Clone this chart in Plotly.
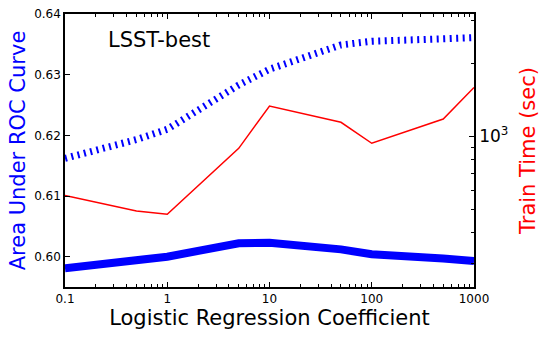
import plotly.graph_objects as go

# Data
coef = [0.1, 0.5, 1, 5, 10, 50, 100, 500, 1000]
auc_dotted = [0.6162, 0.6193, 0.6210, 0.6283, 0.6309, 0.6349, 0.6355, 0.6360, 0.6361]
auc_thick = [0.5981, 0.5993, 0.6000, 0.6022, 0.6023, 0.6012, 0.6004, 0.5997, 0.5993]
train_time = [571, 492, 477, 892, 1333, 1142, 936, 1178, 1589]

x_tickvals = [0.1, 1, 10, 100, 1000]
x_ticktext = ["0.1", "1", "10", "100", "1000"]
x_minor = [m * 10 ** e for e in range(-1, 3) for m in range(2, 10)]
y_tickvals = [0.60, 0.61, 0.62, 0.63, 0.64]
y2_tickvals = [1000]
y2_ticktext = ["10<sup>3</sup>"]
y2_minor = [300, 400, 500, 600, 700, 800, 900, 2000, 3000]

FONT = "DejaVu Sans"

fig = go.Figure()
fig.add_trace(go.Scatter(x=coef, y=auc_dotted, mode="lines",
                         line=dict(color="#0000ff", width=7, dash="2px,4.5px"),
                         yaxis="y", showlegend=False))
fig.add_trace(go.Scatter(x=coef, y=auc_thick, mode="lines",
                         line=dict(color="#0000ff", width=8),
                         yaxis="y", showlegend=False))
fig.add_trace(go.Scatter(x=coef, y=train_time, mode="lines",
                         line=dict(color="#ff0000", width=1.5),
                         yaxis="y2", showlegend=False))

fig.update_layout(
    width=548, height=339,
    margin=dict(l=65, r=74, t=14, b=52, autoexpand=False),
    paper_bgcolor="white", plot_bgcolor="white",
    font=dict(family=FONT, color="black"),
    xaxis=dict(
        type="log", range=[-1, 3], automargin=False,
        tickmode="array", tickvals=x_tickvals, ticktext=x_ticktext,
        ticks="inside", ticklen=5, tickwidth=1, tickcolor="black",
        minor=dict(tickmode="array", tickvals=x_minor, ticks="inside",
                   ticklen=3, tickcolor="black", showgrid=False),
        showline=True, linecolor="black", linewidth=1.5, mirror="ticks",
        showgrid=False, zeroline=False,
        tickfont=dict(size=12, family=FONT),
        title=dict(text="Logistic Regression Coefficient",
                   font=dict(size=21, family=FONT), standoff=4),
    ),
    yaxis=dict(
        range=[0.595, 0.64], automargin=False,
        tickmode="array", tickvals=y_tickvals, tickformat=".2f",
        ticks="inside", ticklen=5, tickwidth=1, tickcolor="black",
        showline=True, linecolor="black", linewidth=1.5,
        showgrid=False, zeroline=False,
        tickfont=dict(size=12, family=FONT),
        title=dict(text="Area Under ROC Curve",
                   font=dict(size=21, family=FONT, color="#0000ff"), standoff=3),
    ),
    yaxis2=dict(
        type="log", range=[2.379, 3.504], automargin=False,
        overlaying="y", side="right",
        tickmode="array", tickvals=y2_tickvals, ticktext=y2_ticktext,
        ticks="inside", ticklen=5, tickwidth=1, tickcolor="black",
        minor=dict(tickmode="array", tickvals=y2_minor, ticks="inside",
                   ticklen=3, tickcolor="black", showgrid=False),
        showline=True, linecolor="black", linewidth=1.5,
        showgrid=False, zeroline=False,
        tickfont=dict(size=17, family=FONT),
        title=dict(text="Train Time (sec)",
                   font=dict(size=21, family=FONT, color="#ff0000"), standoff=13),
    ),
    annotations=[dict(text="LSST-best", x=0.10, y=0.905, xref="paper", yref="paper",
                      xanchor="left", yanchor="middle", showarrow=False,
                      font=dict(size=21, family=FONT, color="black"))],
)

fig.write_html("out.html", config={"displayModeBar": False},
               post_script="document.body.style.margin='0';")
